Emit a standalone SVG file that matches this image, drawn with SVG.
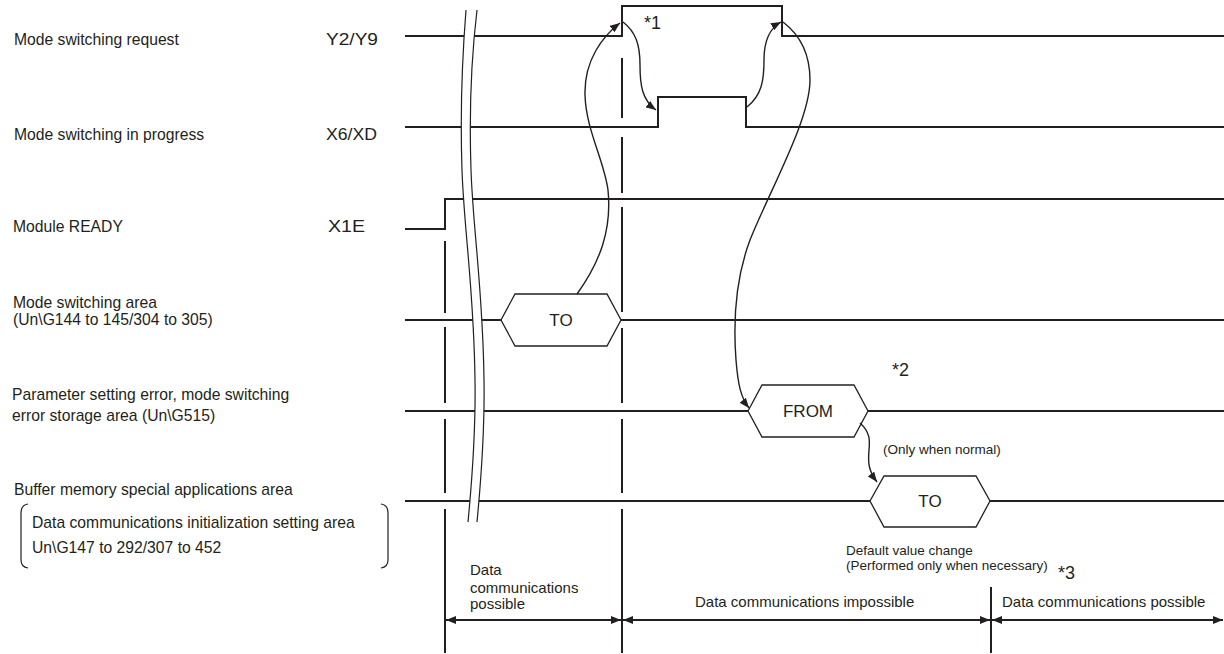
<svg xmlns="http://www.w3.org/2000/svg" width="1224" height="654" viewBox="0 0 1224 654">
<style>
  .lbl { font-family: "Liberation Sans", Arial, sans-serif; font-size: 15.7px; fill: #231f20; }
  .bt { font-family: "Liberation Sans", Arial, sans-serif; font-size: 15px; fill: #231f20; }
  .nt { font-family: "Liberation Sans", Arial, sans-serif; font-size: 18px; fill: #231f20; }
  .sm { font-family: "Liberation Sans", Arial, sans-serif; font-size: 13.5px; fill: #231f20; }
  .hx { font-family: "Liberation Sans", Arial, sans-serif; font-size: 17px; fill: #231f20; text-anchor: middle; }
  .sig { fill: none; stroke: #231f20; stroke-width: 2; }
  .vl { fill: none; stroke: #231f20; stroke-width: 2; }
  .hex { fill: #ffffff; stroke: #231f20; stroke-width: 1.3; }
  .cur { fill: none; stroke: #231f20; stroke-width: 1.4; }
  .brk { fill: none; stroke: #231f20; stroke-width: 1.2; }
</style>
<defs>
  <marker id="ah" viewBox="0 0 10 8" refX="10" refY="4" markerWidth="10" markerHeight="8" orient="auto-start-reverse" markerUnits="userSpaceOnUse">
    <path d="M0,0 L10,4 L0,8 z" fill="#231f20"/>
  </marker>
</defs>
<rect width="1224" height="654" fill="#ffffff"/>

<!-- labels -->
<g id="labels">
  <text class="lbl" x="14" y="45">Mode switching request</text>
  <text class="lbl" x="326" y="45" textLength="52" lengthAdjust="spacingAndGlyphs">Y2/Y9</text>
  <text class="lbl" x="14" y="140">Mode switching in progress</text>
  <text class="lbl" x="326" y="140" textLength="51" lengthAdjust="spacingAndGlyphs">X6/XD</text>
  <text class="lbl" x="13" y="232">Module READY</text>
  <text class="lbl" x="328" y="232" textLength="37" lengthAdjust="spacingAndGlyphs">X1E</text>
  <text class="lbl" x="13" y="308">Mode switching area</text>
  <text class="lbl" x="13" y="325">(Un\G144 to 145/304 to 305)</text>
  <text class="lbl" x="12" y="400">Parameter setting error, mode switching</text>
  <text class="lbl" x="12" y="421">error storage area (Un\G515)</text>
  <text class="lbl" x="14" y="495">Buffer memory special applications area</text>
  <text class="lbl" x="32" y="528">Data communications initialization setting area</text>
  <text class="lbl" x="32" y="553">Un\G147 to 292/307 to 452</text>
  <path class="brk" d="M28,504 Q21,505 21,513 L21,560 Q21,567 28,568"/>
  <path class="brk" d="M381,504 Q388,505 388,513 L388,560 Q388,567 381,568"/>
</g>

<!-- signals -->
<g id="signals">
  <path id="sig-y2" class="sig" d="M405,36 H622 V6 H782 V36 H1224"/>
  <path id="sig-x6" class="sig" d="M405,127 H658 V97 H746 V127 H1224"/>
  <path id="sig-x1e" class="sig" d="M405,229 H445 V199 H1224"/>
  <path class="sig" d="M405,320 H501 M621,320 H1224"/>
  <path class="sig" d="M405,411 H748 M868,411 H1224"/>
  <path class="sig" d="M405,501 H870 M990,501 H1224"/>
</g>

<!-- break symbol -->
<g id="break">
  <path fill="#ffffff" stroke="none" d="M466,10 C462,60 460,110 462,170 C464,230 474,290 475,380 C476,440 471,490 468,522 L477,522 C480,490 485,440 484,380 C483,290 473,230 471,170 C469,110 471,60 477,10 Z"/>
  <path class="brk" d="M466,10 C462,60 460,110 462,170 C464,230 474,290 475,380 C476,440 471,490 468,522"/>
  <path class="brk" d="M477,10 C471,60 469,110 471,170 C473,230 483,290 484,380 C485,440 480,490 477,522"/>
</g>

<!-- hexagons -->
<g id="hex-to1">
  <polygon class="hex" points="501,320 515,294 607,294 621,320 607,346 515,346"/>
  <text class="hx" x="561" y="326">TO</text>
</g>
<g id="hex-from">
  <polygon class="hex" points="748,411 762,385 854,385 868,411 854,437 762,437"/>
  <text class="hx" x="808" y="417">FROM</text>
</g>
<g id="hex-to2">
  <polygon class="hex" points="870,501 884,476 976,476 990,501 976,527 884,527"/>
  <text class="hx" x="930" y="507">TO</text>
</g>

<!-- vertical time lines -->
<g id="timelines">
  <path class="vl" d="M445,241 V313 M445,327 V403 M445,419 V493 M445,509 V653"/>
  <path class="vl" d="M622,58 V118 M622,137 V193 M622,207 V312 M622,328 V403 M622,419 V493 M622,509 V653"/>
  <path class="vl" d="M991,587 V653"/>
</g>

<!-- connectors -->
<g id="connectors">
  <path class="cur" marker-end="url(#ah)" d="M577,294 C600,262 612,230 608,190 C604,160 586,130 585,95 C584,60 603,36 620,23"/>
  <path class="cur" marker-end="url(#ah)" d="M623,22 C636,32 640,45 640,65 C640,85 642,100 656,110"/>
  <path class="cur" marker-end="url(#ah)" d="M747,107 C762,95 764,80 764,60 C764,40 770,28 781,22"/>
  <path class="cur" marker-end="url(#ah)" d="M783,22 C800,35 810,55 810,80 C810,120 770,190 750,240 C735,280 733,320 736,360 C738,385 741,398 749,408"/>
  <path class="cur" marker-end="url(#ah)" d="M860,423 C870,432 870,440 869,450 C868,462 868,470 877,482"/>
  <path class="sig" marker-start="url(#ah)" marker-end="url(#ah)" d="M446,620 H621"/>
  <path class="sig" marker-start="url(#ah)" marker-end="url(#ah)" d="M623,620 H990"/>
  <path class="sig" marker-start="url(#ah)" marker-end="url(#ah)" d="M992,620 H1223"/>
</g>

<!-- notes -->
<g id="notes">
  <text class="nt" x="644" y="29">*1</text>
  <text class="nt" x="892" y="376">*2</text>
  <text class="nt" x="1058" y="579">*3</text>
  <text class="sm" x="883" y="454">(Only when normal)</text>
  <text class="sm" x="846" y="555">Default value change</text>
  <text class="sm" x="846" y="570">(Performed only when necessary)</text>
  <text class="bt" x="470" y="575">Data</text>
  <text class="bt" x="470" y="593">communications</text>
  <text class="bt" x="470" y="609">possible</text>
  <text class="bt" x="695" y="607">Data communications impossible</text>
  <text class="bt" x="1002" y="607">Data communications possible</text>
</g>
</svg>
